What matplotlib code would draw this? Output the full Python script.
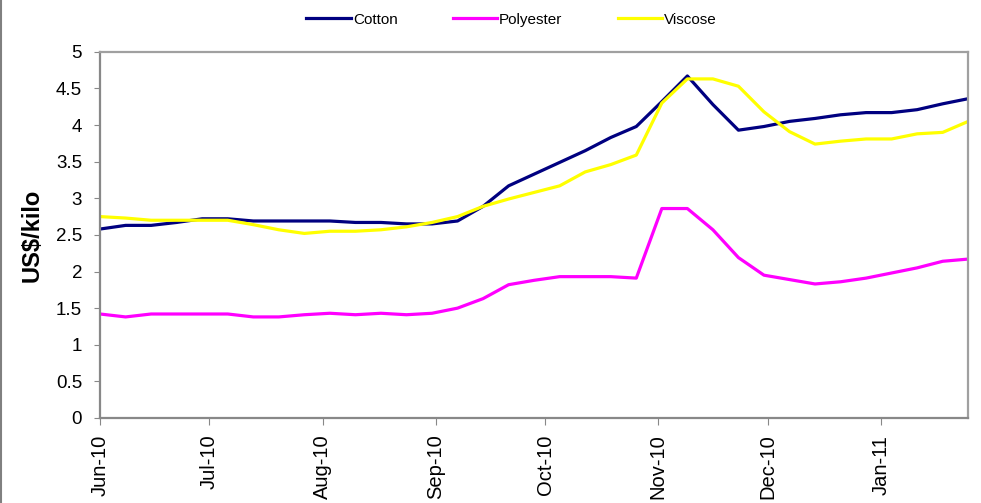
import matplotlib.pyplot as plt
import matplotlib.dates as mdates
from matplotlib.lines import Line2D
import numpy as np
import pandas as pd

plt.rcParams['font.family'] = ['Liberation Sans', 'DejaVu Sans']

# weekly prices, US$/kilo
dates = pd.date_range('2010-06-01', periods=35, freq='7D')

cotton = [2.58, 2.63, 2.63, 2.67, 2.72, 2.72, 2.69, 2.69, 2.69, 2.69,
          2.67, 2.67, 2.65, 2.65, 2.69, 2.89, 3.17, 3.33, 3.49, 3.65,
          3.83, 3.98, 4.32, 4.67, 4.28, 3.93, 3.98, 4.05, 4.09, 4.14,
          4.17, 4.17, 4.21, 4.29, 4.36]

polyester = [1.42, 1.38, 1.42, 1.42, 1.42, 1.42, 1.38, 1.38, 1.41, 1.43,
             1.41, 1.43, 1.41, 1.43, 1.50, 1.63, 1.82, 1.88, 1.93, 1.93,
             1.93, 1.91, 2.86, 2.86, 2.57, 2.19, 1.95, 1.89, 1.83, 1.86,
             1.91, 1.98, 2.05, 2.14, 2.17]

viscose = [2.75, 2.73, 2.70, 2.70, 2.70, 2.70, 2.64, 2.57, 2.52, 2.55,
           2.55, 2.57, 2.61, 2.67, 2.75, 2.89, 2.99, 3.08, 3.17, 3.36,
           3.46, 3.59, 4.30, 4.63, 4.63, 4.53, 4.18, 3.91, 3.74, 3.78,
           3.81, 3.81, 3.88, 3.90, 4.05]

fig = plt.figure(figsize=(9.81, 5.03), dpi=100)
ax = fig.add_axes([0.102, 0.169, 0.885, 0.728])

ax.plot(dates, cotton, color='#000080', linewidth=2.3, label='Cotton')
ax.plot(dates, polyester, color='#FF00FF', linewidth=2.3, label='Polyester')
ax.plot(dates, viscose, color='#FFFF00', linewidth=2.3, label='Viscose')

ax.set_xlim(dates[0], dates[-1])
ax.set_ylim(0, 5)
ax.set_yticks(np.arange(0, 5.01, 0.5))
ax.set_yticklabels(['0', '0.5', '1', '1.5', '2', '2.5', '3', '3.5', '4', '4.5', '5'])

ax.xaxis.set_major_locator(mdates.MonthLocator())
ax.xaxis.set_major_formatter(mdates.DateFormatter('%b-%y'))
for lab in ax.get_xticklabels():
    lab.set_rotation(90)
    lab.set_va('top')
    lab.set_ha('center')

ax.tick_params(axis='y', labelsize=13.5, length=4, color='#888888', pad=9)
ax.tick_params(axis='x', labelsize=14.5, length=5, color='#888888', pad=7)

for s in ax.spines.values():
    s.set_color('#a0a0a0')
    s.set_linewidth(1.6)
ax.spines['left'].set_color('#888888')
ax.spines['bottom'].set_color('#888888')

ax.set_ylabel('US$/kilo', fontsize=17, fontweight='bold', labelpad=9)

ax.legend(loc='center', bbox_to_anchor=(0.474, 1.088), ncol=3, frameon=False,
          fontsize=11, handlelength=2.9, handletextpad=0.15, columnspacing=3.6)

# outer chart border on the left edge
fig.add_artist(Line2D([0.001, 0.001], [0, 1], color='#808080', linewidth=1.5,
                      transform=fig.transFigure))

fig.savefig('out.png', dpi=100)
